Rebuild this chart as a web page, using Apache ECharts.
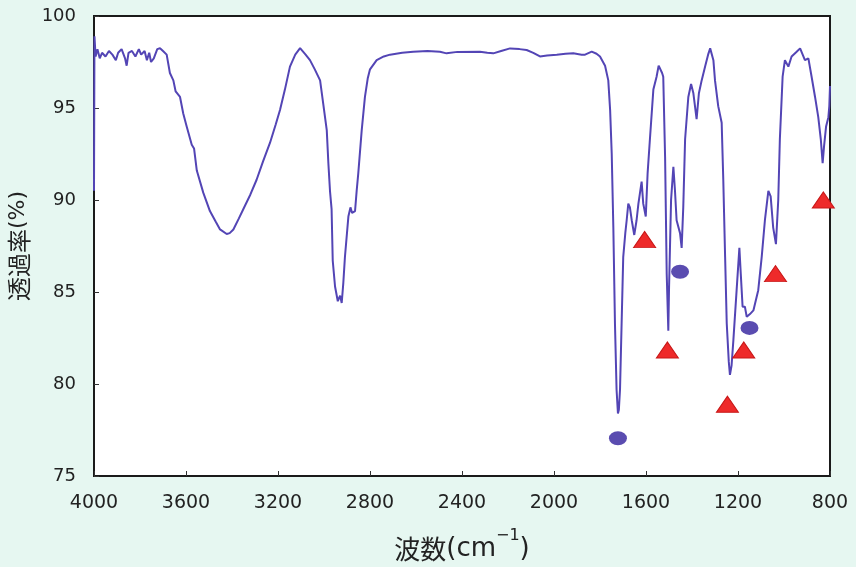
<!DOCTYPE html>
<html>
<head>
<meta charset="utf-8">
<script src="https://cdn.jsdelivr.net/npm/echarts@6/dist/echarts.min.js"></script>
<style>
html,body{margin:0;padding:0;background:#e6f7f1;}
#c{width:856px;height:567px;}
</style>
</head>
<body>
<div id="c"></div>
<script>
// IR spectrum: wavenumber (cm^-1) and transmittance (%)
var wavenumbers = [4000,3998,3993,3985,3975,3965,3950,3935,3920,3905,3895,3880,3865,3858,3850,3835,3820,3805,3795,3780,3770,3760,3752,3740,3725,3713,3700,3684,3670,3655,3645,3640,3626,3612,3597,3575,3565,3553,3525,3496,3470,3452,3423,3410,3394,3370,3351,3320,3293,3265,3235,3210,3191,3170,3148,3125,3104,3097,3080,3061,3040,3017,3003,2988,2981,2974,2967,2962,2952,2940,2930,2923,2916,2909,2894,2885,2878,2865,2858,2851,2836,2822,2810,2800,2771,2740,2713,2660,2612,2550,2496,2467,2420,2322,2290,2264,2230,2191,2150,2119,2090,2061,2030,1988,1950,1916,1880,1865,1836,1815,1800,1778,1764,1756,1749,1742,1735,1728,1722,1718,1713,1706,1699,1690,1684,1677,1670,1662,1651,1641,1633,1619,1612,1601,1593,1583,1568,1554,1545,1539,1530,1525,1517,1510,1503,1500,1491,1481,1474,1467,1452,1445,1438,1430,1416,1404,1394,1380,1370,1358,1343,1330,1321,1307,1300,1286,1271,1264,1256,1249,1240,1235,1228,1220,1206,1194,1188,1180,1170,1162,1148,1133,1112,1097,1083,1068,1058,1047,1035,1025,1018,1006,996,981,967,945,930,909,894,880,865,851,840,832,826,817,807,803,800];
var transmittance = [90.5,98.9,97.8,98.2,97.7,98.0,97.8,98.1,97.9,97.6,98.0,98.2,97.7,97.3,98.0,98.1,97.8,98.2,97.9,98.1,97.6,98.0,97.5,97.7,98.2,98.25,98.1,97.9,96.9,96.5,95.9,96.0,95.6,94.7,94.0,93.0,92.8,91.6,90.4,89.4,88.8,88.4,88.15,88.2,88.4,89.0,89.5,90.3,91.1,92.1,93.1,94.1,94.9,96.0,97.25,97.9,98.25,98.2,97.9,97.6,97.1,96.5,95.2,93.8,92.0,90.5,89.5,86.7,85.3,84.5,84.8,84.4,85.5,86.9,89.1,89.6,89.3,89.4,90.5,91.45,93.8,95.6,96.6,97.1,97.6,97.8,97.9,98.0,98.06,98.1,98.06,97.97,98.05,98.06,98.0,97.97,98.1,98.24,98.2,98.15,98.0,97.8,97.85,97.9,97.95,97.97,97.9,97.9,98.06,97.95,97.8,97.3,96.5,94.9,92.5,88.5,83.3,79.7,78.4,78.6,79.7,83.3,86.9,88.2,88.9,89.8,89.6,88.9,88.1,88.9,89.8,91.0,89.8,89.1,91.45,93.3,96.0,96.7,97.3,97.25,96.9,96.7,92.35,86.0,82.9,85.1,90.0,91.8,90.5,88.9,88.2,87.4,89.6,93.3,95.6,96.3,95.8,94.4,95.8,96.5,97.25,97.9,98.24,97.6,96.5,95.1,94.2,91.1,86.9,83.3,81.2,80.5,81.0,82.4,85.1,87.4,86.0,84.2,84.2,83.65,83.8,84.0,85.1,86.9,88.9,90.5,90.2,88.5,87.6,90.0,93.3,96.7,97.6,97.25,97.8,98.06,98.24,97.6,97.7,96.7,95.6,94.5,93.3,92.0,92.9,94.0,94.5,95.1,96.2];

// Marker positions
var circleX = [1722, 1452, 1150];
var circleY = [77.05, 86.1, 83.05];
var triangleX = [1606, 1507, 1246, 1175, 1037, 829];
var triangleY = [87.85, 81.85, 78.9, 81.85, 86.0, 90.0];

var yTicks = [75, 80, 85, 90, 95, 100];
var xTicks = [800, 1200, 1600, 2000, 2400, 2800, 3200, 3600, 4000];

function pairs(xs, ys){ return xs.map(function(x,i){ return [x, ys[i]]; }); }
function plain(v){ return String(v); }

var chart = echarts.init(document.getElementById('c'), null, {renderer:'canvas'});
chart.setOption({
  backgroundColor: '#e6f7f1',
  animation: false,
  grid: {left: 94, right: 26, top: 16, bottom: 91, containLabel: false, outerBoundsMode: 'none',
         show: true, backgroundColor: '#ffffff', borderColor: '#1a1a1a', borderWidth: 2},
  xAxis: {
    type: 'value', inverse: true, min: xTicks[0], max: xTicks[xTicks.length-1], interval: 400,
    axisLine: {show: true, lineStyle: {color: '#1a1a1a', width: 2}},
    axisTick: {show: true, inside: true, length: 5, lineStyle: {color: '#333'}},
    splitLine: {show: false},
    axisLabel: {margin: 18, fontSize: 19, color: '#222', fontFamily: 'DejaVu Sans, sans-serif', formatter: plain},
    name: '{c|波数}{l|(cm}{sup|−1}{l|)}', nameLocation: 'middle', nameGap: 52,
    nameTextStyle: {fontSize: 26, color: '#222', lineHeight: 34,
      rich: {
        c: {fontSize: 26, color: '#222', fontFamily: 'Noto Sans CJK JP, sans-serif', lineHeight: 34, verticalAlign: 'bottom'},
        l: {fontSize: 26, color: '#222', fontFamily: 'DejaVu Sans, sans-serif', lineHeight: 34, verticalAlign: 'bottom'},
        sup: {fontSize: 16, color: '#222', fontFamily: 'DejaVu Sans, sans-serif', verticalAlign: 'top', lineHeight: 34}
      }}
  },
  yAxis: {
    type: 'value', min: yTicks[0], max: yTicks[yTicks.length-1], interval: 5,
    axisLine: {show: true, lineStyle: {color: '#1a1a1a', width: 2}},
    axisTick: {show: true, inside: true, length: 5, lineStyle: {color: '#333'}},
    splitLine: {show: false},
    axisLabel: {margin: 18, fontSize: 18, color: '#222', fontFamily: 'DejaVu Sans, sans-serif', formatter: plain},
    name: '{c|透過率}{l|(%)}', nameLocation: 'middle', nameGap: 59,
    nameTextStyle: {fontSize: 24, color: '#222',
      rich: {
        c: {fontSize: 24, color: '#222', fontFamily: 'Noto Sans CJK JP, sans-serif'},
        l: {fontSize: 22, color: '#222', fontFamily: 'DejaVu Sans, sans-serif'}
      }}
  },
  series: [
    {type: 'line', data: pairs(wavenumbers, transmittance), showSymbol: false, symbol: 'none',
     lineStyle: {color: '#5345b5', width: 2}, z: 2},
    {type: 'scatter', data: pairs(circleX, circleY), symbol: 'circle', symbolSize: [18, 14],
     itemStyle: {color: '#5a4cb0', opacity: 1}, z: 3},
    {type: 'scatter', data: pairs(triangleX, triangleY), symbol: 'triangle', symbolSize: [22, 16],
     itemStyle: {color: '#ee2a2a', borderColor: '#c81818', borderWidth: 1, opacity: 1}, z: 3}
  ]
});
</script>
</body>
</html>
